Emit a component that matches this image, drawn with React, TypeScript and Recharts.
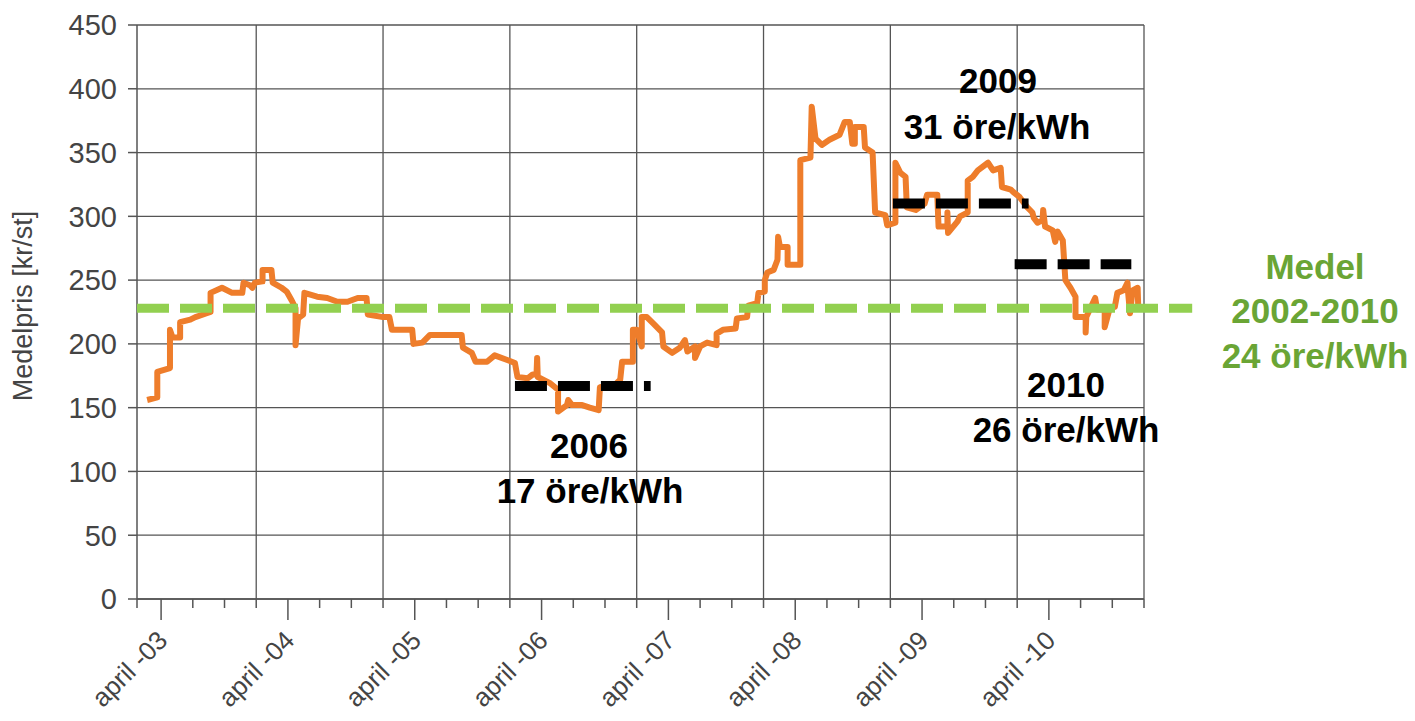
import React from 'react';
import {
	LineChart,
	Line,
	XAxis,
	YAxis,
	CartesianGrid,
	ReferenceLine,
} from 'recharts';

const FONT = "'Liberation Sans', Arial, Helvetica, sans-serif";

// decimal year of each step of the weekly price series
const dates = [
	2003.14, 2003.22, 2003.22, 2003.32, 2003.32, 2003.34, 2003.4, 2003.4, 2003.48, 2003.52,
	2003.61, 2003.64, 2003.64, 2003.73, 2003.81, 2003.89, 2003.9, 2003.95, 2003.97, 2003.99,
	2004.05, 2004.05, 2004.12, 2004.13, 2004.2, 2004.24, 2004.28, 2004.31, 2004.31, 2004.33,
	2004.37, 2004.38, 2004.48, 2004.56, 2004.64, 2004.72, 2004.8, 2004.87, 2004.88, 2005.0,
	2005.05, 2005.07, 2005.23, 2005.24, 2005.31, 2005.37, 2005.62, 2005.63, 2005.7, 2005.73,
	2005.82, 2005.88, 2005.99, 2006.04, 2006.06, 2006.14, 2006.18, 2006.21, 2006.215, 2006.22,
	2006.32, 2006.38, 2006.38, 2006.45, 2006.46, 2006.49, 2006.57, 2006.63, 2006.7, 2006.71,
	2006.83, 2006.87, 2006.885, 2006.97, 2006.97, 2007.0, 2007.04, 2007.04, 2007.08, 2007.13,
	2007.2, 2007.21, 2007.28, 2007.34, 2007.38, 2007.4, 2007.46, 2007.46, 2007.5, 2007.555,
	2007.63, 2007.63, 2007.68, 2007.78, 2007.79, 2007.87, 2007.88, 2007.95, 2007.96, 2008.01,
	2008.01, 2008.03, 2008.08, 2008.11, 2008.115, 2008.13, 2008.19, 2008.19, 2008.29, 2008.29,
	2008.37, 2008.38, 2008.41, 2008.46, 2008.52, 2008.56, 2008.6, 2008.64, 2008.68, 2008.7,
	2008.72, 2008.72, 2008.79, 2008.8, 2008.86, 2008.88, 2008.96, 2008.975, 2009.04, 2009.04,
	2009.08, 2009.12, 2009.13, 2009.2, 2009.27, 2009.29, 2009.37, 2009.38, 2009.45, 2009.45,
	2009.455, 2009.53, 2009.55, 2009.61, 2009.61, 2009.65, 2009.69, 2009.77, 2009.81, 2009.87,
	2009.88, 2009.95, 2009.97, 2010.02, 2010.08, 2010.12, 2010.13, 2010.16, 2010.2, 2010.205,
	2010.22, 2010.28, 2010.3, 2010.32, 2010.36, 2010.38, 2010.42, 2010.46, 2010.46, 2010.54,
	2010.54, 2010.545, 2010.615, 2010.63, 2010.69, 2010.69, 2010.73, 2010.77, 2010.79, 2010.84,
	2010.87, 2010.875, 2010.89, 2010.91, 2010.95, 2010.955,
];

// Medelpris [kr/st]
const prices = [
	156, 158, 178, 181, 211, 205, 205, 217, 219, 221,
	224, 225, 240, 244, 240, 240, 248, 246, 244, 248,
	249, 258, 258, 248, 244, 241, 234, 228, 199, 220,
	223, 240, 237, 236, 233, 233, 236, 236, 223, 221,
	221, 211, 211, 200, 201, 207, 207, 197, 193, 186,
	186, 191, 187, 185, 174, 173, 176, 176, 189, 174,
	169, 164, 147, 152, 156, 152, 152, 150, 148, 166,
	168, 172, 186, 186, 211, 211, 198, 221, 221, 216,
	209, 198, 193, 197, 203, 194, 198, 189, 198, 201,
	199, 208, 211, 212, 220, 221, 230, 232, 240, 241,
	250, 256, 258, 266, 284, 276, 276, 262, 262, 344,
	346, 386, 361, 356, 360, 362, 364, 374, 374, 357,
	357, 370, 370, 354, 350, 303, 301, 293, 295, 342,
	334, 331, 307, 305, 310, 317, 317, 292, 292, 303,
	287, 296, 300, 303, 328, 331, 336, 342, 336, 338,
	323, 321, 319, 315, 307, 303, 299, 295, 297, 305,
	292, 289, 280, 288, 281, 250, 244, 237, 221, 221,
	209, 221, 236, 227, 227, 213, 228, 229, 240, 242,
	248, 240, 224, 242, 244, 227,
];

const yTicks = [0, 50, 100, 150, 200, 250, 300, 350, 400, 450];
const gridYears = [2004, 2005, 2006, 2007, 2008, 2009, 2010, 2011];
const xTicks = [2003.06];
for (let q = 2003.25; q <= 2011; q += 0.25) xTicks.push(q);

// year averages drawn as dashed bars [from, to, value]
const yearAverages = [
	[2006.04, 2007.11, 167],
	[2009.02, 2010.09, 310],
	[2009.98, 2010.9, 262.5],
];
const overallAverage = 228;

const data = dates.map((t, i) => ({ t, v: prices[i] }));

const XTick = (props: any) => {
	const { x, y, payload } = props;
	const frac = Math.round((payload.value % 1) * 100) / 100;
	const isApril = frac === 0.25;
	const yr = String(Math.floor(payload.value)).slice(2);
	const ax = x + 8;
	const ay = y + 43;
	return (
		<g>
			<line x1={x} y1={y} x2={x} y2={y + (isApril ? 21 : 9)} stroke='#555' strokeWidth={1.5} />
			{isApril && (
				<text
					x={ax}
					y={ay}
					textAnchor='end'
					transform={`rotate(-45, ${ax}, ${ay})`}
					fill='#444'
					fontSize={26}
					fontFamily={FONT}
				>
					{`april -${yr}`}
				</text>
			)}
		</g>
	);
};

const bold = { fontFamily: FONT, fontWeight: 700, fontSize: 35 };

export default function App() {
	return (
		<div style={{ position: 'relative', width: 1399, height: 705 }}>
			<LineChart
				width={1399}
				height={705}
				data={data}
				margin={{ top: 17, right: 263, left: 0, bottom: 0 }}
			>
				<CartesianGrid vertical={false} stroke='#555' strokeWidth={1.3} />
				{gridYears.map((yr) => (
					<ReferenceLine key={yr} x={yr} stroke='#555' strokeWidth={1.3} />
				))}
				<XAxis
					type='number'
					dataKey='t'
					domain={[2003.06, 2011]}
					allowDataOverflow
					ticks={xTicks}
					interval={0}
					tick={<XTick />}
					tickLine={false}
					tickSize={0}
					tickMargin={0}
					height={114}
					axisLine={{ stroke: '#555', strokeWidth: 1.5 }}
				/>
				<YAxis
					type='number'
					domain={[0, 450]}
					ticks={yTicks}
					interval={0}
					width={129}
					tickSize={9}
					tickMargin={11}
					tick={{ fill: '#444', fontSize: 29, fontFamily: FONT }}
					axisLine={{ stroke: '#555', strokeWidth: 1.5 }}
					tickLine={{ stroke: '#555', strokeWidth: 1.5 }}
				/>
				<Line
					type='linear'
					dataKey='v'
					stroke='#EE7D2B'
					strokeWidth={6}
					strokeLinejoin='round'
					dot={false}
					activeDot={false}
					isAnimationActive={false}
				/>
				{yearAverages.map(([a, b, v], i) => (
					<ReferenceLine
						key={i}
						segment={[{ x: a, y: v }, { x: b, y: v }]}
						stroke='#000'
						strokeWidth={10}
						strokeDasharray='32 11'
						zIndex={600}
					/>
				))}
				<ReferenceLine
					segment={[{ x: 2003.06, y: overallAverage }, { x: 2011.38, y: overallAverage }]}
					ifOverflow='visible'
					stroke='#92D050'
					strokeWidth={9}
					strokeDasharray='32 11'
					zIndex={600}
				/>
			</LineChart>
			<svg
				width={1399}
				height={705}
				style={{ position: 'absolute', left: 0, top: 0, pointerEvents: 'none' }}
			>
				<text
					x={24}
					y={298}
					transform='rotate(-90, 24, 298)'
					textAnchor='middle'
					fill='#444'
					fontSize={27}
					fontFamily={FONT}
				>
					Medelpris [kr/st]
				</text>
				<g textAnchor='middle' fill='#000' {...bold}>
					<text x={581} y={450}>2006</text>
					<text x={582} y={495}>17 öre/kWh</text>
					<text x={990} y={85}>2009</text>
					<text x={989} y={131}>31 öre/kWh</text>
					<text x={1058} y={389}>2010</text>
					<text x={1058} y={434}>26 öre/kWh</text>
				</g>
				<g textAnchor='middle' fill='#6AA535' {...bold}>
					<text x={1307} y={271}>Medel</text>
					<text x={1307} y={315}>2002-2010</text>
					<text x={1307} y={360}>24 öre/kWh</text>
				</g>
			</svg>
		</div>
	);
}
